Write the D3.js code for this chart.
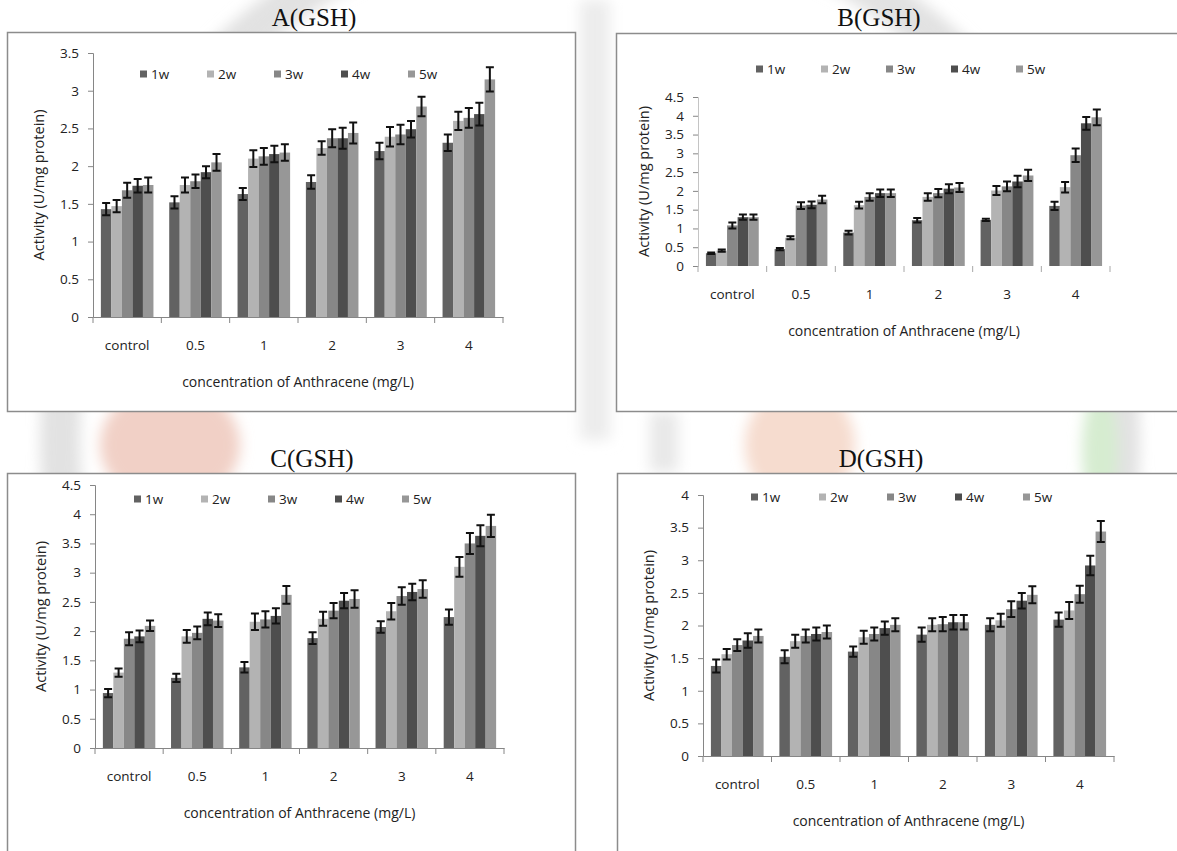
<!DOCTYPE html>
<html>
<head>
<meta charset="utf-8">
<script src="https://cdn.jsdelivr.net/npm/d3@7"></script>
<style>
  html, body { margin: 0; padding: 0; background: #fff; }
  svg { display: block; }
  .tick text { font-family: "Open Sans", sans-serif; fill: #222; }
</style>
</head>
<body>
<svg id="chart" width="1177" height="851"></svg>
<script>
// ---- data ----
const categories = ['control', '0.5', '1', '2', '3', '4'];
const weeks = ['1w', '2w', '3w', '4w', '5w'];

// values per week, one entry per category
const valuesA = [
  [1.43, 1.52, 1.63, 1.79, 2.20, 2.31],
  [1.47, 1.75, 2.10, 2.24, 2.39, 2.60],
  [1.68, 1.80, 2.13, 2.37, 2.42, 2.64],
  [1.74, 1.92, 2.16, 2.37, 2.49, 2.69],
  [1.75, 2.05, 2.18, 2.44, 2.79, 3.15]
];
const errorsA = [
  [0.08, 0.08, 0.08, 0.09, 0.11, 0.11],
  [0.08, 0.10, 0.11, 0.09, 0.13, 0.12],
  [0.10, 0.09, 0.11, 0.12, 0.13, 0.13],
  [0.09, 0.08, 0.11, 0.14, 0.11, 0.15],
  [0.10, 0.11, 0.11, 0.14, 0.13, 0.16]
];
const valuesB = [
  [0.34, 0.45, 0.89, 1.22, 1.23, 1.60],
  [0.41, 0.75, 1.62, 1.84, 2.01, 2.10],
  [1.08, 1.61, 1.84, 1.94, 2.12, 2.95],
  [1.30, 1.63, 1.94, 2.06, 2.25, 3.80],
  [1.30, 1.77, 1.94, 2.09, 2.41, 3.96]
];
const errorsB = [
  [0.02, 0.03, 0.05, 0.06, 0.03, 0.11],
  [0.03, 0.04, 0.09, 0.10, 0.12, 0.14],
  [0.08, 0.09, 0.10, 0.11, 0.13, 0.18],
  [0.07, 0.09, 0.10, 0.12, 0.15, 0.17],
  [0.07, 0.10, 0.10, 0.12, 0.15, 0.21]
];
const valuesC = [
  [0.94, 1.20, 1.38, 1.88, 2.07, 2.24],
  [1.29, 1.91, 2.16, 2.21, 2.34, 3.10],
  [1.87, 1.97, 2.20, 2.35, 2.60, 3.50],
  [1.91, 2.21, 2.26, 2.52, 2.67, 3.63],
  [2.09, 2.18, 2.62, 2.55, 2.72, 3.80]
];
const errorsC = [
  [0.07, 0.07, 0.09, 0.10, 0.10, 0.13],
  [0.07, 0.11, 0.14, 0.12, 0.14, 0.17],
  [0.11, 0.11, 0.14, 0.13, 0.15, 0.18],
  [0.10, 0.11, 0.13, 0.13, 0.14, 0.18],
  [0.09, 0.11, 0.15, 0.15, 0.15, 0.19]
];
const valuesD = [
  [1.38, 1.52, 1.60, 1.86, 2.01, 2.09],
  [1.56, 1.76, 1.82, 2.01, 2.08, 2.23],
  [1.70, 1.84, 1.87, 2.02, 2.25, 2.48],
  [1.77, 1.87, 1.96, 2.05, 2.38, 2.92],
  [1.84, 1.90, 2.01, 2.05, 2.47, 3.44]
];
const errorsD = [
  [0.10, 0.10, 0.08, 0.11, 0.10, 0.11],
  [0.08, 0.10, 0.10, 0.10, 0.10, 0.13],
  [0.09, 0.10, 0.10, 0.11, 0.12, 0.13],
  [0.11, 0.10, 0.10, 0.11, 0.12, 0.15],
  [0.10, 0.10, 0.10, 0.11, 0.13, 0.16]
];

const yTicksA = [0, 0.5, 1, 1.5, 2, 2.5, 3, 3.5];
const yTicksB = [0, 0.5, 1, 1.5, 2, 2.5, 3, 3.5, 4, 4.5];
const yTicksC = [0, 0.5, 1, 1.5, 2, 2.5, 3, 3.5, 4, 4.5];
const yTicksD = [0, 0.5, 1, 1.5, 2, 2.5, 3, 3.5, 4];

const weekColors = ['#626262', '#b3b3b3', '#878787', '#4e4e4e', '#979797'];

const svg = d3.select('#chart');

// faint seal watermark behind the panels
svg.append('defs').append('filter').attr('id', 'blur')
  .append('feGaussianBlur').attr('stdDeviation', 7);
const wm = svg.append('g').attr('filter', 'url(#blur)');
wm.append('circle').attr('cx', 590).attr('cy', 440).attr('r', 530)
  .attr('fill', 'none').attr('stroke', '#e2e2e2').attr('stroke-width', 40);
wm.append('ellipse').attr('cx', 170).attr('cy', 445).attr('rx', 70).attr('ry', 60)
  .attr('fill', '#f1d0c6');
wm.append('ellipse').attr('cx', 800).attr('cy', 445).attr('rx', 55).attr('ry', 60)
  .attr('fill', '#f6dccf');
wm.append('ellipse').attr('cx', 1100).attr('cy', 450).attr('rx', 18).attr('ry', 60)
  .attr('fill', '#d6ecd0');
wm.append('rect').attr('x', 580).attr('y', 0).attr('width', 30).attr('height', 440)
  .attr('fill', '#ececec');
wm.append('rect').attr('x', 650).attr('y', 412).attr('width', 28).attr('height', 60)
  .attr('fill', '#e8e8e8');

const panels = [
  { title: 'A(GSH)', values: valuesA, errors: errorsA, ticks: yTicksA,
    frame: [7.5, 32.5, 568, 379], titleX: 314, titleY: 17,
    x0: 93, x1: 503, y0: 317, y1: 53, legendX: 140, legendY: 74, legendStep: 67, xLine: true },
  { title: 'B(GSH)', values: valuesB, errors: errorsB, ticks: yTicksB,
    frame: [616.5, 33.5, 600, 378], titleX: 879, titleY: 17,
    x0: 698, x1: 1110, y0: 266, y1: 97, legendX: 756, legendY: 69, legendStep: 65, xLine: false },
  { title: 'C(GSH)', values: valuesC, errors: errorsC, ticks: yTicksC,
    frame: [7.5, 473.5, 568, 420], titleX: 312, titleY: 458,
    x0: 95, x1: 504, y0: 748, y1: 485, legendX: 134, legendY: 499, legendStep: 67, xLine: true },
  { title: 'D(GSH)', values: valuesD, errors: errorsD, ticks: yTicksD,
    frame: [617.5, 473.5, 600, 420], titleX: 881, titleY: 458,
    x0: 703, x1: 1114, y0: 756, y1: 495, legendX: 751, legendY: 497, legendStep: 68, xLine: true }
];

panels.forEach(function(p) {
  const g = svg.append('g');

  g.append('rect')
    .attr('x', p.frame[0]).attr('y', p.frame[1])
    .attr('width', p.frame[2]).attr('height', p.frame[3])
    .attr('fill', '#fff').attr('stroke', '#8c8c8c').attr('stroke-width', 1.5);

  g.append('text')
    .attr('x', p.titleX).attr('y', p.titleY)
    .attr('text-anchor', 'middle').attr('dominant-baseline', 'central')
    .attr('font-family', '"Liberation Serif", "Times New Roman", serif')
    .attr('font-size', 25).attr('fill', '#111')
    .text(p.title);

  const x = d3.scaleBand().domain(categories).range([p.x0, p.x1]);
  const xw = d3.scaleBand().domain(weeks).range([0, x.bandwidth()]).paddingOuter(0.75);
  const y = d3.scaleLinear().domain([0, d3.max(p.ticks)]).range([p.y0, p.y1]);

  // y axis
  const yAxis = g.append('g')
    .attr('transform', 'translate(' + p.x0 + ',0)')
    .call(d3.axisLeft(y).tickValues(p.ticks).tickSize(5).tickPadding(9).tickFormat(d => String(d)));
  yAxis.select('.domain').attr('stroke', p.xLine ? '#868686' : '#c4c4c4');
  yAxis.selectAll('.tick line').attr('stroke', '#868686');
  yAxis.selectAll('.tick text').attr('font-size', 13.5);

  // x axis: labels centred on categories, tick marks on category boundaries
  const xAxis = g.append('g')
    .attr('transform', 'translate(0,' + p.y0 + ')')
    .call(d3.axisBottom(x).tickSize(0).tickPadding(23));
  xAxis.select('.domain').attr('stroke', p.xLine ? '#868686' : 'none');
  xAxis.selectAll('.tick text').attr('font-size', 13.5);

  const bounds = categories.map(c => x(c)).concat([p.x1]);
  g.selectAll('.bound').data(bounds).join('line')
    .attr('x1', d => d).attr('x2', d => d)
    .attr('y1', p.y0).attr('y2', p.y0 + 6)
    .attr('stroke', p.xLine ? '#868686' : '#a8a8a8').attr('stroke-width', 1);

  // bars
  weeks.forEach(function(w, i) {
    const rows = categories.map((c, j) => ({ c: c, v: p.values[i][j], e: p.errors[i][j] }));
    const bx = d => x(d.c) + xw(w);
    g.selectAll('.bar' + i).data(rows).join('rect')
      .attr('x', bx).attr('width', xw.bandwidth())
      .attr('y', d => y(d.v)).attr('height', d => y(0) - y(d.v))
      .attr('fill', weekColors[i]);

    const cx = d => bx(d) + xw.bandwidth() / 2;
    const cap = 4;
    g.selectAll('.err' + i).data(rows).join('path')
      .attr('d', d =>
        'M' + cx(d) + ',' + y(d.v + d.e) + 'V' + y(d.v - d.e) +
        'M' + (cx(d) - cap) + ',' + y(d.v + d.e) + 'H' + (cx(d) + cap) +
        'M' + (cx(d) - cap) + ',' + y(d.v - d.e) + 'H' + (cx(d) + cap))
      .attr('fill', 'none').attr('stroke', '#111').attr('stroke-width', 2);
  });

  // axis titles
  g.append('text')
    .attr('x', (p.x0 + p.x1) / 2).attr('y', p.y0 + 64)
    .attr('text-anchor', 'middle').attr('dominant-baseline', 'central')
    .attr('font-family', '"Open Sans", sans-serif').attr('font-size', 14).attr('fill', '#222')
    .text('concentration of Anthracene (mg/L)');
  g.append('text')
    .attr('transform', 'translate(' + (p.x0 - 55) + ',' + ((p.y0 + p.y1) / 2) + ') rotate(-90)')
    .attr('text-anchor', 'middle').attr('dominant-baseline', 'central')
    .attr('font-family', '"Open Sans", sans-serif').attr('font-size', 14.5).attr('fill', '#222')
    .text('Activity (U/mg protein)');

  // legend
  const leg = g.selectAll('.leg').data(weeks).join('g')
    .attr('transform', (d, i) => 'translate(' + (p.legendX + i * p.legendStep) + ',' + p.legendY + ')');
  leg.append('rect').attr('x', 0).attr('y', -3.5).attr('width', 7).attr('height', 7)
    .attr('fill', (d, i) => weekColors[i]);
  leg.append('text').attr('x', 11).attr('y', 0).attr('dominant-baseline', 'central')
    .attr('font-family', '"Open Sans", sans-serif').attr('font-size', 13.5).attr('fill', '#222')
    .text(d => d);
});
</script>
</body>
</html>
